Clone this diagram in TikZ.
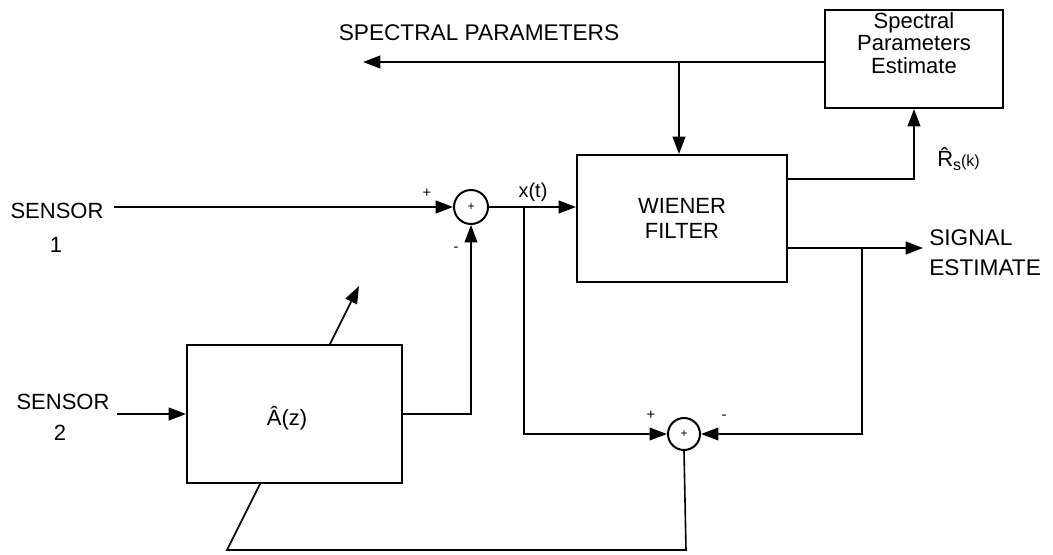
\documentclass[tikz,border=0pt]{standalone}
\usepackage{fontspec}
\setmainfont{Liberation Sans}
\usetikzlibrary{arrows.meta,backgrounds}
\begin{document}
\begin{tikzpicture}[x=0.75pt,y=-0.75pt,
  lbl/.style={inner sep=0pt,font=\fontsize{16.5}{22.5}\selectfont},
  sgn/.style={inner sep=0pt,font=\fontsize{11}{11}\selectfont},
  blk/.style={draw,line width=1.5pt,fill=white,inner sep=0pt},
  sumnode/.style={draw,circle,line width=1.5pt,fill=white,inner sep=0pt,font=\fontsize{9}{9}\selectfont},
  wire/.style={line width=1.6pt},
  arr/.style={wire,-{Triangle[length=13pt,width=9.5pt]}},
  thin/.style={line width=1.2pt}]
\useasboundingbox (0,0) rectangle (1053,554);

% blocks
\node[blk,minimum width=157.5pt,minimum height=95.25pt,align=center,
      font=\fontsize{16.5}{18.5}\selectfont] (wiener) at (682,218.5) {WIENER\\FILTER};
\node[blk,minimum width=133.5pt,minimum height=73.5pt] (spec) at (914,59) {};
\node[inner sep=0pt,align=center,font=\fontsize{16.5}{17}\selectfont] (spectxt) at (914,43) {Spectral\\Parameters\\Estimate};
\node[blk,minimum width=161.25pt,minimum height=103.5pt] (abox) at (294.5,414) {};
\node[inner sep=0pt,font=\fontsize{16.5}{18}\selectfont] (atxt) at (287,418) {\^{A}(z)};

% summing junctions
\node[sumnode,minimum size=25.5pt] (sum1) at (471,207) {+};
\node[sumnode,minimum size=24pt] (sum2) at (684,434) {+};

% texts
\node[inner sep=0pt,font=\fontsize{17}{17}\selectfont] (sp) at (479,33) {SPECTRAL PARAMETERS};
\node[lbl] (s1) at (57,211) {SENSOR};
\node[lbl] (s1n) at (56,245) {1};
\node[lbl] (s2) at (63,402) {SENSOR};
\node[lbl] (s2n) at (60,433) {2};
\node[lbl,anchor=west,align=left,font=\fontsize{17}{22.5}\selectfont] (sig) at (929,253) {SIGNAL\\ESTIMATE};
\node[inner sep=0pt,font=\fontsize{15}{15}\selectfont] (xt) at (533,192) {x(t)};
\node[inner sep=0pt,anchor=west,font=\fontsize{16.5}{16.5}\selectfont] (rs) at (937,159)
  {\^{R}{\fontsize{12}{12}\selectfont\raisebox{-3pt}{s}(k)}};
\node[sgn] (p1) at (427,193) {+};
\node[sgn] (m1) at (456,249) {-};
\node[sgn] (p2) at (651,415) {+};
\node[sgn] (m2) at (724,417) {-};

% coordinates
\coordinate (s1o) at (114,207);
\coordinate (s2o) at (117,414);
\coordinate (spout) at (363,62);
\coordinate (j1) at (679,62);
\coordinate (b1) at (524,207);
\coordinate (b2) at (862,248);
\coordinate (wo1) at (787,179);
\coordinate (wo2) at (787,248);
\coordinate (sigend) at (923,248);
\coordinate (ao) at (402,414);
\coordinate (bl) at (686,550);
\coordinate (br) at (227,550);
\coordinate (adtip) at (359,286);

% connectors
\draw[arr] (s1o) -- (sum1.west);
\draw[arr] (sum1.east) -- (sum1.east -| wiener.west);
\draw[arr,thin] (b1) |- (sum2.west);
\draw[arr] (wo1) -| (spec.south);
\draw[arr] (wo2) -- (sigend);
\draw[arr,thin] (b2) |- (sum2.east);
\draw[arr] (spec.west |- spout) -- (spout);
\draw[arr,thin] (j1) -- (j1 |- wiener.north);
\draw[arr] (s2o) -- (s2o -| abox.west);
\draw[arr,thin] (ao) -| (sum1.south);
\begin{scope}[on background layer]
\draw[thin,-{Triangle[length=13pt,width=9.5pt]}] (sum2.south) -- (bl) -- (br) -- (adtip);
\end{scope}
\end{tikzpicture}
\end{document}
